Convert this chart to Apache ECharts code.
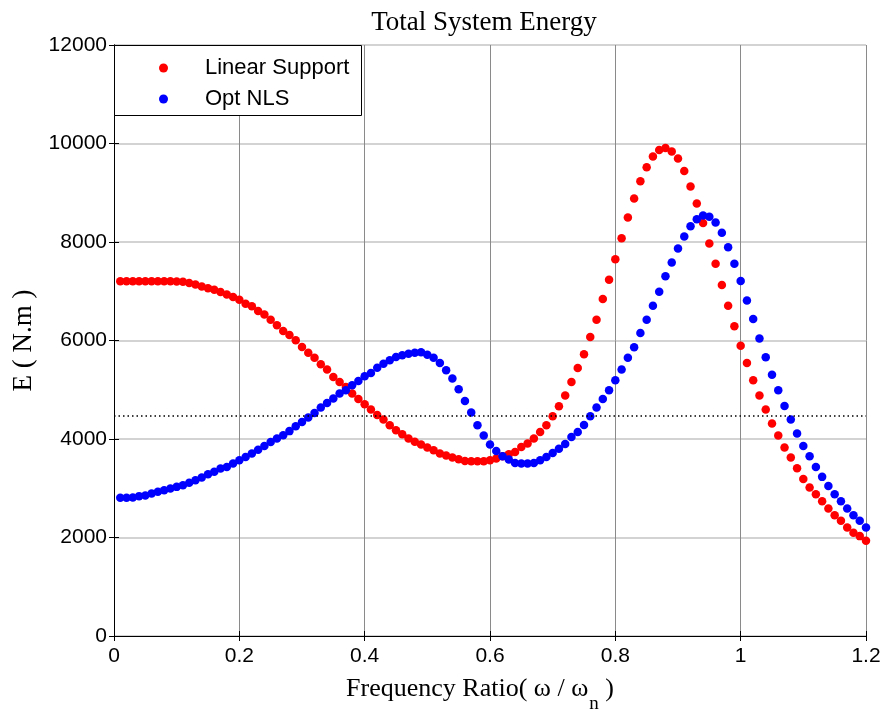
<!DOCTYPE html>
<html>
<head>
<meta charset="utf-8">
<title>Total System Energy</title>
<script src="https://cdn.jsdelivr.net/npm/echarts@6/dist/echarts.min.js"></script>
<style>
  html, body { margin: 0; padding: 0; background: #fff; }
  #chart { width: 887px; height: 713px; }
</style>
</head>
<body>
<div id="chart"></div>
<script>
// frequency ratio samples (w / wn)
const freqRatio = [
  0.01, 0.02, 0.03, 0.04, 0.05, 0.06, 0.07, 0.08, 0.09, 0.10,
  0.11, 0.12, 0.13, 0.14, 0.15, 0.16, 0.17, 0.18, 0.19, 0.20,
  0.21, 0.22, 0.23, 0.24, 0.25, 0.26, 0.27, 0.28, 0.29, 0.30,
  0.31, 0.32, 0.33, 0.34, 0.35, 0.36, 0.37, 0.38, 0.39, 0.40,
  0.41, 0.42, 0.43, 0.44, 0.45, 0.46, 0.47, 0.48, 0.49, 0.50,
  0.51, 0.52, 0.53, 0.54, 0.55, 0.56, 0.57, 0.58, 0.59, 0.60,
  0.61, 0.62, 0.63, 0.64, 0.65, 0.66, 0.67, 0.68, 0.69, 0.70,
  0.71, 0.72, 0.73, 0.74, 0.75, 0.76, 0.77, 0.78, 0.79, 0.80,
  0.81, 0.82, 0.83, 0.84, 0.85, 0.86, 0.87, 0.88, 0.89, 0.90,
  0.91, 0.92, 0.93, 0.94, 0.95, 0.96, 0.97, 0.98, 0.99, 1.00,
  1.01, 1.02, 1.03, 1.04, 1.05, 1.06, 1.07, 1.08, 1.09, 1.10,
  1.11, 1.12, 1.13, 1.14, 1.15, 1.16, 1.17, 1.18, 1.19, 1.20
];

// E (N.m), linear support
const linearSupport = [
  7205, 7205, 7205, 7205, 7205, 7205, 7205, 7205, 7205, 7200,
  7195, 7166, 7139, 7098, 7063, 7031, 6983, 6936, 6881, 6828,
  6747, 6693, 6597, 6530, 6423, 6310, 6192, 6110, 6003, 5867,
  5753, 5652, 5516, 5409, 5259, 5158, 5056, 4922, 4813, 4705,
  4597, 4488, 4395, 4279, 4178, 4097, 4009, 3945, 3888, 3827,
  3772, 3705, 3664, 3624, 3590, 3555, 3549, 3549, 3549, 3569,
  3604, 3650, 3691, 3738, 3839, 3908, 4009, 4143, 4279, 4462,
  4664, 4881, 5158, 5441, 5719, 6070, 6423, 6841, 7234, 7652,
  8078, 8497, 8883, 9234, 9518, 9734, 9870, 9911, 9836, 9694,
  9444, 9126, 8784, 8386, 7970, 7558, 7125, 6707, 6287, 5895,
  5543, 5192, 4881, 4597, 4314, 4070, 3827, 3624, 3407, 3190,
  3016, 2880, 2738, 2590, 2454, 2338, 2204, 2095, 2028, 1933
];

// E (N.m), optimised nonlinear support
const optNLS = [
  2805, 2805, 2810, 2840, 2853, 2894, 2927, 2961, 2995, 3028,
  3062, 3110, 3164, 3218, 3285, 3333, 3400, 3433, 3502, 3569,
  3636, 3705, 3780, 3858, 3941, 4009, 4076, 4160, 4259, 4346,
  4435, 4529, 4638, 4731, 4821, 4922, 4989, 5090, 5178, 5273,
  5340, 5449, 5530, 5597, 5664, 5699, 5733, 5752, 5760, 5713,
  5652, 5543, 5394, 5226, 5009, 4772, 4537, 4279, 4070, 3888,
  3758, 3650, 3583, 3515, 3502, 3502, 3515, 3569, 3636, 3717,
  3800, 3900, 4042, 4143, 4285, 4462, 4638, 4813, 4989, 5192,
  5409, 5652, 5861, 6151, 6423, 6707, 6991, 7307, 7585, 7869,
  8112, 8321, 8463, 8538, 8515, 8396, 8187, 7895, 7558, 7206,
  6814, 6435, 6043, 5658, 5307, 4989, 4670, 4395, 4111, 3859,
  3650, 3433, 3231, 3048, 2880, 2738, 2590, 2454, 2338, 2204
];

const refLevel = 4480; // dotted reference line
const xTicks = { min: 0, max: 1.2, interval: 0.2 };
const yTicks = { min: 0, max: 12000, interval: 2000 };

const chart = echarts.init(document.getElementById('chart'));

const sans = 'Liberation Sans, Arial, sans-serif';
const serif = 'Liberation Serif, Times New Roman, serif';

const boxAxis = (pos, showLabels) => ({
  position: pos,
  axisLine: { show: true, lineStyle: { color: '#000', width: 1 } },
  axisTick: { show: true, inside: true, length: 5, lineStyle: { color: '#000' } },
  axisLabel: { show: showLabels, color: '#000', fontFamily: sans, fontSize: 21 },
  splitLine: { show: false }
});

const option = {
  animation: false,
  backgroundColor: '#fff',
  title: {
    text: 'Total System Energy',
    left: 484,
    top: 9,
    padding: 0,
    textAlign: 'center',
    textStyle: { fontFamily: serif, fontSize: 27, fontWeight: 'normal', color: '#000' }
  },
  grid: { left: 114, right: 21, top: 45, bottom: 77, outerBoundsMode: 'none' },
  legend: {
    orient: 'vertical',
    left: 159,
    top: 56,
    padding: 0,
    itemGap: 7,
    itemWidth: 9,
    itemHeight: 9,
    icon: 'circle',
    textStyle: { fontFamily: sans, fontSize: 22, color: '#000', lineHeight: 24, padding: [0, 0, 0, 32] },
    data: ['Linear Support', 'Opt NLS']
  },
  graphic: [{
    type: 'rect',
    z: 3,
    shape: { x: 114.5, y: 45.5, width: 247, height: 70 },
    style: { fill: '#fff', stroke: '#000', lineWidth: 1 }
  }],
  xAxis: [
    Object.assign(boxAxis('bottom', true), {
      type: 'value', ...xTicks,
      axisLabel: { color: '#000', fontFamily: sans, fontSize: 21, margin: 10 },
      splitLine: { show: true, lineStyle: { color: '#8a8a8a', width: 1 } },
      name: '{a|Frequency Ratio( ω / ω}{s|n}{a| )}',
      nameLocation: 'middle',
      nameGap: 40,
      nameTextStyle: {
        padding: [0, 20, 0, 0],
        rich: {
          a: { fontFamily: serif, fontSize: 26, color: '#000', lineHeight: 30, verticalAlign: 'top' },
          s: { fontFamily: serif, fontSize: 19, color: '#000', lineHeight: 19, padding: [19, 0, 0, 1], verticalAlign: 'top' }
        }
      }
    }),
    Object.assign(boxAxis('top', false), { type: 'value', ...xTicks })
  ],
  yAxis: [
    Object.assign(boxAxis('left', true), {
      type: 'value', ...yTicks,
      axisLabel: { color: '#000', fontFamily: sans, fontSize: 21, margin: 7, formatter: v => String(v) },
      splitLine: { show: true, lineStyle: { color: '#c4c4c4', width: 1.5 } },
      name: 'E ( N.m )',
      nameLocation: 'middle',
      nameGap: 74,
      nameTextStyle: { fontFamily: serif, fontSize: 27, color: '#000' }
    }),
    Object.assign(boxAxis('right', false), { type: 'value', ...yTicks })
  ],
  series: [
    {
      name: 'Linear Support',
      type: 'scatter',
      symbolSize: 8.5,
      itemStyle: { color: '#ff0000', opacity: 1 },
      data: freqRatio.map((f, i) => [f, linearSupport[i]]),
      markLine: {
        silent: true,
        symbol: 'none',
        label: { show: false },
        lineStyle: { color: '#000', width: 1.5, type: [1.5, 3] },
        data: [{ yAxis: refLevel }]
      }
    },
    {
      name: 'Opt NLS',
      type: 'scatter',
      symbolSize: 8.5,
      itemStyle: { color: '#0000ff', opacity: 1 },
      data: freqRatio.map((f, i) => [f, optNLS[i]])
    }
  ]
};

chart.setOption(option);
</script>
</body>
</html>
